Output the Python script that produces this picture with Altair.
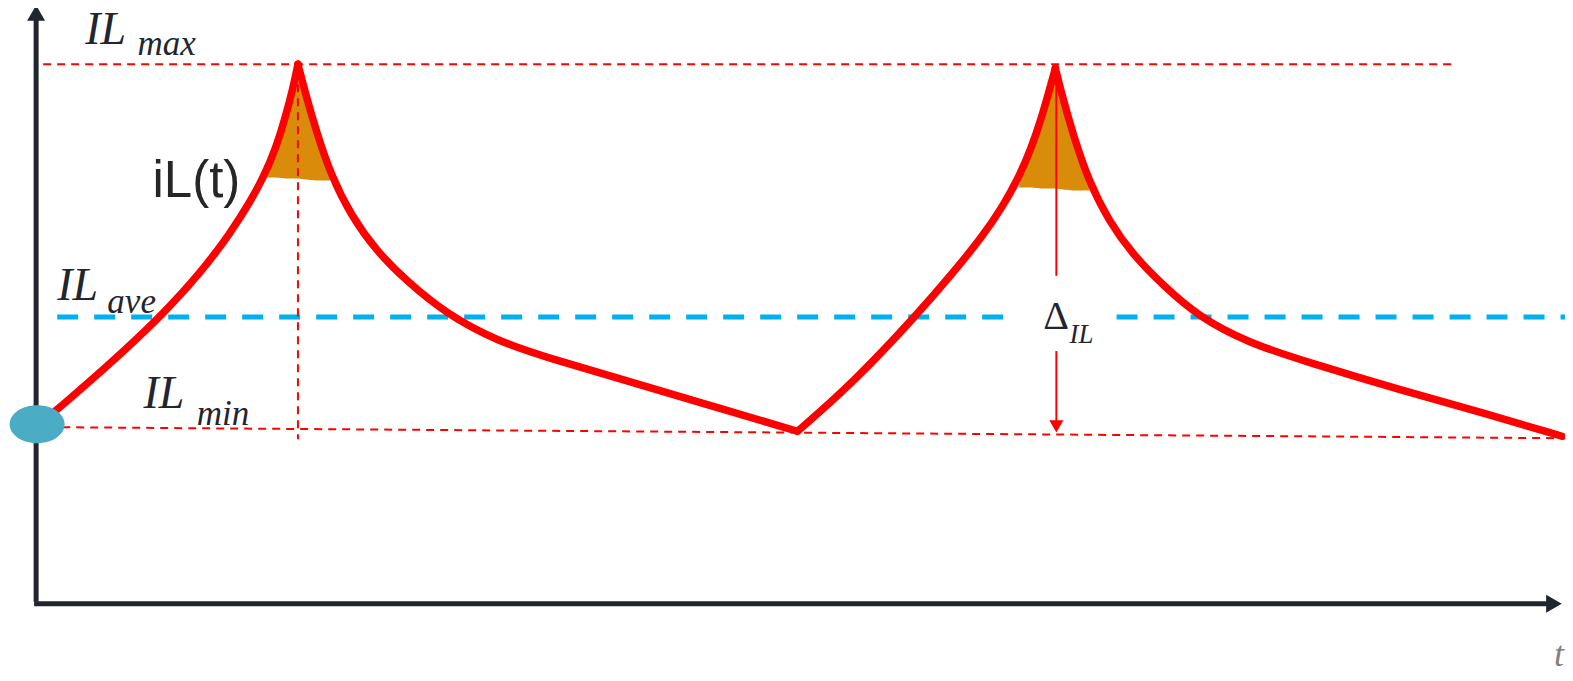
import altair as alt
import pandas as pd

# ---- values (picture pixel coordinates) ----
rise1_x = [55, 105, 160, 200, 230, 250, 262, 275, 285, 292, 297]
rise1_y = [410, 367, 316, 272, 232, 200, 178, 148, 115, 88, 64]
fall1_x = [297, 305, 315, 330, 350, 375, 405, 445, 495, 550, 620, 700, 795]
fall1_y = [64, 95, 130, 175, 215, 250, 280, 313, 340, 358, 378, 402, 430]
rise2_x = [795, 850, 912, 950, 980, 1000, 1015, 1028, 1038, 1046, 1052]
rise2_y = [430, 382, 316, 272, 235, 205, 178, 148, 118, 90, 68]
fall2_x = [1052, 1060, 1070, 1085, 1105, 1130, 1160, 1195, 1245, 1300, 1400, 1480, 1557]
fall2_y = [68, 100, 135, 180, 220, 255, 285, 316, 342, 360, 390, 412, 435]

fill1_x = [264, 275, 285, 292, 297, 305, 315, 329]
fill1_y = [178, 148, 115, 88, 66, 95, 130, 178]
fill1_base = [177, 177, 178, 178, 178, 179, 180, 180]
fill2_x = [1015, 1028, 1038, 1046, 1052, 1060, 1070, 1086]
fill2_y = [188, 148, 118, 90, 70, 100, 135, 188]
fill2_base = [187, 187, 188, 188, 188, 189, 190, 190]

# dashed / solid guide lines
red_dash_x = [43, 62, 297]
red_dash_y = [64, 426, 70]
red_dash_x2 = [1450, 1568, 297]
red_dash_y2 = [64, 437, 438]

blue_dash_x = [57, 1113]
blue_dash_x2 = [1010, 1568]
blue_dash_y = [316, 316]

delta_x = [1053, 1053]
delta_y = [275, 350]
delta_y2 = [82, 420]

axis_x = [36, 34]
axis_y = [600, 602]
axis_x2 = [36, 1542]
axis_y2 = [20, 602]

# arrow heads
head_x = [36, 1549, 1053, 1053]
head_y = [13, 602, 80, 425]
head_shape = ["triangle-up", "triangle-right", "triangle-up", "triangle-down"]
head_color = ["#1F2630", "#1F2630", "#FF0000", "#FF0000"]
head_size = [324, 324, 110, 200]

dot_x = [37]
dot_y = [423]

# labels
math_big = ["IL", "IL", "IL"]
math_big_x = [85, 57, 143]
math_big_y = [44, 299, 407]
math_sub = ["max", "ave", "min"]
math_sub_x = [137, 107, 196]
math_sub_y = [55, 312, 424]

# ---- scales mapping picture coordinates onto the page ----
W, H = 1557, 665
xs = alt.Scale(domain=[8 * 1568 / 1573, 1565 * 1568 / 1573], nice=False, zero=False)
ys = alt.Scale(domain=[673 * 679 / 681, 8 * 679 / 681], nice=False, zero=False)


def X(f="x"):
    return alt.X(f"{f}:Q", scale=xs, axis=None)


def Y(f="y"):
    return alt.Y(f"{f}:Q", scale=ys, axis=None, stack=None)


rows = []
for seg, (xx, yy) in enumerate([(rise1_x, rise1_y), (fall1_x, fall1_y),
                                (rise2_x, rise2_y), (fall2_x, fall2_y)]):
    for i, (a, b) in enumerate(zip(xx, yy)):
        rows.append({"x": a, "y": b, "seg": seg, "o": i})
curve_df = pd.DataFrame(rows)


def fill_layer(xx, yy, bb):
    df = pd.DataFrame({"x": xx, "y": yy, "yb": bb})
    return alt.Chart(df).mark_area(color="#D98B0A", opacity=1, interpolate="linear").encode(
        x=X(), y=Y(), y2="yb:Q")


fills = [fill_layer(fill1_x, fill1_y, fill1_base), fill_layer(fill2_x, fill2_y, fill2_base)]

red_dash = alt.Chart(pd.DataFrame({"x": red_dash_x, "y": red_dash_y,
                                   "x2": red_dash_x2, "y2": red_dash_y2})).mark_rule(
    color="#FF0000", strokeWidth=2, strokeDash=[8, 6]).encode(x=X(), y=Y(), x2="x2:Q", y2="y2:Q")

blue_dash = alt.Chart(pd.DataFrame({"x": blue_dash_x, "x2": blue_dash_x2, "y": blue_dash_y})).mark_rule(
    color="#00B0F0", strokeWidth=5, strokeDash=[21, 16]).encode(x=X(), x2="x2:Q", y=Y())

axes = alt.Chart(pd.DataFrame({"x": axis_x, "y": axis_y, "x2": axis_x2, "y2": axis_y2})).mark_rule(
    color="#1F2630", strokeWidth=5).encode(x=X(), y=Y(), x2="x2:Q", y2="y2:Q")

curve = alt.Chart(curve_df).mark_line(color="#FF0000", strokeWidth=7.5, interpolate="basis",
                                      strokeCap="round", strokeJoin="round").encode(
    x=X(), y=Y(), detail="seg:N", order="o:Q")

delta = alt.Chart(pd.DataFrame({"x": delta_x, "y": delta_y, "y2": delta_y2})).mark_rule(
    color="#FF0000", strokeWidth=2).encode(x=X(), y=Y(), y2="y2:Q")

heads = alt.Chart(pd.DataFrame({"x": head_x, "y": head_y, "shape": head_shape,
                                "c": head_color, "s": head_size})).mark_point(
    filled=True, opacity=1, strokeWidth=0).encode(
    x=X(), y=Y(), shape=alt.Shape("shape:N", scale=None, legend=None),
    color=alt.Color("c:N", scale=None, legend=None),
    size=alt.Size("s:Q", scale=None, legend=None))

dot = alt.Chart(pd.DataFrame({"x": dot_x, "y": dot_y})).mark_point(
    shape="M-1,0A1,0.69,0,1,1,1,0A1,0.69,0,1,1,-1,0Z", size=3025, filled=True,
    opacity=1, color="#4BACC6", strokeWidth=0).encode(x=X(), y=Y())

big = alt.Chart(pd.DataFrame({"x": math_big_x, "y": math_big_y, "t": math_big})).mark_text(
    font="Liberation Serif", fontStyle="italic", fontSize=46, align="left",
    baseline="alphabetic", color="#1F2630").encode(x=X(), y=Y(), text="t:N")

sub = alt.Chart(pd.DataFrame({"x": math_sub_x, "y": math_sub_y, "t": math_sub})).mark_text(
    font="Liberation Serif", fontStyle="italic", fontSize=35, align="left",
    baseline="alphabetic", color="#1F2630").encode(x=X(), y=Y(), text="t:N")

il_t = alt.Chart(pd.DataFrame({"x": [152], "y": [196], "t": ["iL(t)"]})).mark_text(
    font="Liberation Sans", fontSize=51, align="left", baseline="alphabetic",
    color="#262626").encode(x=X(), y=Y(), text="t:N")

delta_sym = alt.Chart(pd.DataFrame({"x": [1040], "y": [328], "t": ["Δ"]})).mark_text(
    font="Liberation Serif", fontSize=40, align="left", baseline="alphabetic",
    color="#1F2630").encode(x=X(), y=Y(), text="t:N")

delta_sub = alt.Chart(pd.DataFrame({"x": [1066], "y": [342], "t": ["IL"]})).mark_text(
    font="Liberation Serif", fontStyle="italic", fontSize=27, align="left",
    baseline="alphabetic", color="#1F2630").encode(x=X(), y=Y(), text="t:N")

t_lab = alt.Chart(pd.DataFrame({"x": [1549], "y": [664], "t": ["t"]})).mark_text(
    font="Liberation Serif", fontStyle="italic", fontSize=36, align="left",
    baseline="alphabetic", color="#808080").encode(x=X(), y=Y(), text="t:N")

chart = alt.layer(*fills, blue_dash, red_dash, axes, curve, delta, heads, dot,
                  big, sub, il_t, delta_sym, delta_sub, t_lab).properties(
    width=W, height=H, padding=0, autosize=alt.AutoSizeParams(type="none"),
    background="white").configure_view(stroke=None)

chart.save("out.html", embed_options={"renderer": "svg", "actions": False})
